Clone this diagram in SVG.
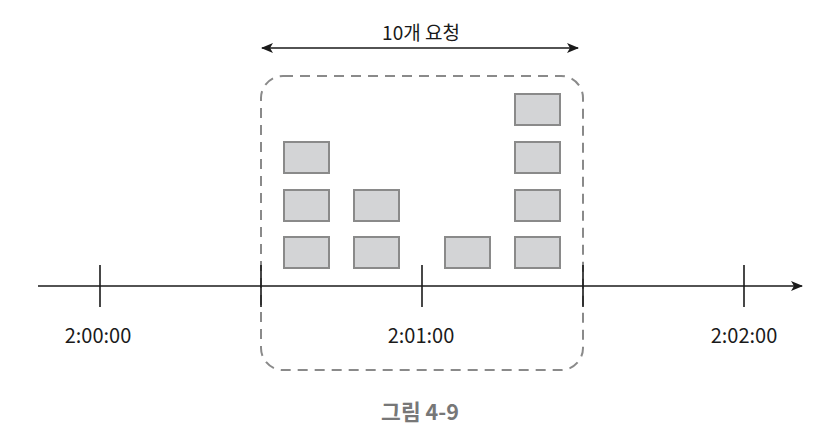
<svg xmlns="http://www.w3.org/2000/svg" width="828" height="438" viewBox="0 0 828 438">
<style>
.box{fill:#d3d4d6;stroke:#8a8a8a;stroke-width:2}
.ln{stroke:#1a1a1a;stroke-width:1.6;fill:none}
.lbl{font-family:"Noto Sans CJK KR","Noto Sans",sans-serif;font-size:19px;fill:#1a1a1a;text-anchor:middle}
.tm{font-size:20px}
.cap{font-family:"Noto Sans CJK KR","Noto Sans",sans-serif;font-size:21.5px;font-weight:bold;fill:#777;text-anchor:middle}
</style>
<defs>
<marker id="ah" viewBox="0 0 12 10" refX="11" refY="5" markerWidth="12" markerHeight="10" markerUnits="userSpaceOnUse" orient="auto-start-reverse">
<path d="M0,0 L12,5 L0,10 L3,5 Z" fill="#1a1a1a"/>
</marker>
</defs>
<rect id="window" x="261" y="76" width="322" height="294" rx="22" ry="22" fill="none" stroke="#8a8a8a" stroke-width="2" stroke-dasharray="10 7"/>
<g id="connectors">
<line class="ln" x1="38" y1="286" x2="802" y2="286" marker-end="url(#ah)"/>
<line class="ln" x1="262" y1="48" x2="578" y2="48" marker-start="url(#ah)" marker-end="url(#ah)"/>
<line class="ln" x1="100" y1="265" x2="100" y2="307"/>
<line class="ln" x1="261" y1="265" x2="261" y2="307"/>
<line class="ln" x1="422" y1="265" x2="422" y2="307"/>
<line class="ln" x1="583" y1="265" x2="583" y2="307"/>
<line class="ln" x1="744" y1="265" x2="744" y2="307"/>
</g>
<g id="requests">
<rect class="box" x="284" y="142" width="45" height="31"/>
<rect class="box" x="284" y="190" width="45" height="31"/>
<rect class="box" x="284" y="237" width="45" height="31"/>
<rect class="box" x="354" y="190" width="45" height="31"/>
<rect class="box" x="354" y="237" width="45" height="31"/>
<rect class="box" x="445" y="237" width="45" height="31"/>
<rect class="box" x="515" y="94" width="45" height="31"/>
<rect class="box" x="515" y="142" width="45" height="31"/>
<rect class="box" x="515" y="190" width="45" height="31"/>
<rect class="box" x="515" y="237" width="45" height="31"/>
</g>
<text class="lbl" x="421" y="40">10개 요청</text>
<text class="lbl tm" x="98" y="343">2:00:00</text>
<text class="lbl tm" x="421" y="343">2:01:00</text>
<text class="lbl tm" x="744" y="343">2:02:00</text>
<text class="cap" x="420" y="420">그림 4-9</text>
</svg>
